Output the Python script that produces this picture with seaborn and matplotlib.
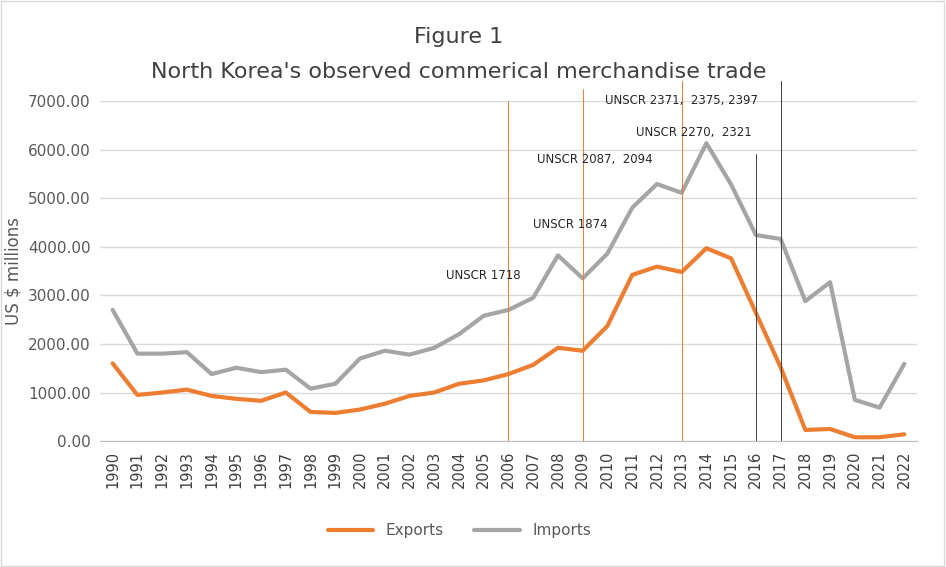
import matplotlib
matplotlib.use("Agg")
import matplotlib.pyplot as plt
import seaborn as sns
import pandas as pd

years = list(range(1990, 2023))
exports = [1600, 950, 1000, 1060, 930, 870, 830, 1000, 600, 580, 650, 770, 930, 1000,
           1180, 1250, 1380, 1570, 1920, 1860, 2370, 3420, 3590, 3480, 3970, 3760,
           2640, 1520, 230, 250, 80, 80, 140]
imports = [2700, 1800, 1800, 1830, 1380, 1510, 1420, 1470, 1080, 1180, 1700, 1860,
           1780, 1920, 2200, 2580, 2700, 2950, 3820, 3350, 3860, 4800, 5290, 5110,
           6130, 5280, 4240, 4160, 2880, 3270, 850, 690, 1590]
sanction_years = [2006, 2009, 2013, 2016, 2017]
sanction_labels = ["UNSCR 1718", "UNSCR 1874", "UNSCR 2087,  2094",
                   "UNSCR 2270,  2321", "UNSCR 2371,  2375, 2397"]

df = pd.DataFrame({"Year": years, "Exports": exports, "Imports": imports})
long = df.melt(id_vars="Year", var_name="Series", value_name="Value")
long["pos"] = long["Year"] - 1990

sns.set_style("white")
plt.rcParams['font.family'] = ['DejaVu Sans']
fig = plt.figure(figsize=(9.46, 5.67), dpi=100)
ax = fig.add_axes([0.106, 0.222, 0.863, 0.6])

sns.lineplot(data=long, x="pos", y="Value", hue="Series",
             palette={"Exports": "#ED7D31", "Imports": "#A5A5A5"},
             linewidth=3, ax=ax)

# sanction markers: (line colour, top, label x, label y)
styles = [("#ED7D31", 7000, -1.0, 3400), ("#ED7D31", 7250, -0.5, 4450),
          ("#ED7D31", 7400, -3.5, 5800), ("#404040", 5900, -2.5, 6350),
          ("#404040", 7400, -4.0, 7000)]
for yr, lab, (c, top, dx, ly) in zip(sanction_years, sanction_labels, styles):
    p = yr - 1990
    ax.plot([p, p], [0, top], color=c, linewidth=0.7, clip_on=False)
    ax.text(p + dx, ly, lab, fontsize=8.5, ha="center", va="center")

ax.set_xlim(-0.5, len(years) - 0.5)
ax.set_ylim(0, 7000)
ax.set_yticks(range(0, 7001, 1000))
ax.set_yticklabels([f"{v:.2f}" for v in range(0, 7001, 1000)], fontsize=11, color="#595959")
ax.set_xticks(range(len(years)))
ax.set_xticklabels([str(y) for y in years], rotation=90, fontsize=10.5, color="#404040")
ax.grid(axis="y", color="#D9D9D9", linewidth=1)
for s in ["top", "right", "left"]:
    ax.spines[s].set_visible(False)
ax.spines["bottom"].set_color("#BFBFBF")
ax.set_xlabel("")
ax.set_ylabel("US $ millions", fontsize=12, color="#595959")

fig.text(0.485, 0.925, "Figure 1", ha="center", fontsize=16, color="#404040")
fig.text(0.485, 0.862, "North Korea's observed commerical merchandise trade",
         ha="center", fontsize=16, color="#404040")
ax.legend(loc="upper center", bbox_to_anchor=(0.44, -0.2), ncol=2, frameon=False,
          fontsize=11, handlelength=3)
for t in ax.get_legend().get_texts():
    t.set_color("#595959")

fig.patches.append(plt.Rectangle((0.001, 0.002), 0.997, 0.996, transform=fig.transFigure,
                                 fill=False, edgecolor="#D9D9D9", linewidth=1))

fig.savefig("out.png", dpi=100)
